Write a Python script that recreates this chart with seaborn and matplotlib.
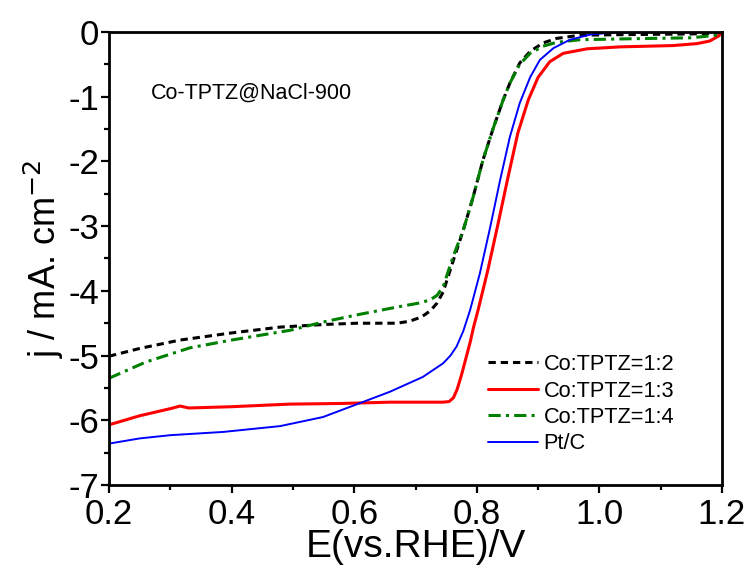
import matplotlib

matplotlib.use("Agg")

import pandas as pd
import seaborn as sns
from matplotlib import pyplot as plt
from matplotlib.ticker import MultipleLocator

sns.set_theme(style="white")
plt.rcParams["font.family"] = ["Liberation Sans", "DejaVu Sans"]
plt.rcParams["axes.unicode_minus"] = False
for key in ["text.color", "axes.labelcolor", "xtick.color", "ytick.color"]:
    plt.rcParams[key] = "black"

# Curves (E in V vs RHE, j in mA cm-2)
e_12 = [0.2, 0.25, 0.316, 0.4, 0.479, 0.55, 0.605, 0.67, 0.69, 0.705, 0.715,
        0.725, 0.735, 0.745, 0.761, 0.778, 0.794, 0.810, 0.826, 0.843, 0.854,
        0.870, 0.887, 0.908, 0.93, 0.968, 1.05, 1.15, 1.19, 1.2]
j_12 = [-5.01, -4.89, -4.76, -4.65, -4.56, -4.52, -4.50, -4.50, -4.47, -4.42, -4.37,
        -4.30, -4.19, -4.02, -3.55, -3.06, -2.55, -1.98, -1.51, -1.05, -0.79,
        -0.48, -0.30, -0.17, -0.10, -0.05, -0.04, -0.03, -0.02, 0.0]

e_13 = [0.2, 0.25, 0.3, 0.316, 0.33, 0.4, 0.495, 0.58, 0.658, 0.745, 0.755, 0.762,
        0.768, 0.775, 0.782, 0.789, 0.795, 0.802, 0.818, 0.835, 0.851, 0.867, 0.884,
        0.900, 0.919, 0.941, 0.980, 1.034, 1.077, 1.12, 1.159, 1.18, 1.195, 1.2]
j_13 = [-6.07, -5.93, -5.82, -5.78, -5.81, -5.79, -5.75, -5.74, -5.72, -5.72, -5.71, -5.65,
        -5.52, -5.30, -5.05, -4.80, -4.55, -4.30, -3.68, -2.95, -2.24, -1.56, -1.05,
        -0.70, -0.46, -0.33, -0.26, -0.23, -0.22, -0.21, -0.18, -0.14, -0.06, 0.0]

e_14 = [0.2, 0.26, 0.332, 0.4, 0.495, 0.55, 0.605, 0.67, 0.705, 0.724, 0.735, 0.745,
        0.761, 0.778, 0.794, 0.810, 0.826, 0.843, 0.854, 0.870, 0.887, 0.908, 0.93,
        0.968, 1.022, 1.08, 1.15, 1.19, 1.2]
j_14 = [-5.35, -5.10, -4.88, -4.76, -4.61, -4.48, -4.37, -4.25, -4.19, -4.14, -4.07, -3.94,
        -3.48, -3.06, -2.55, -1.98, -1.51, -1.05, -0.79, -0.50, -0.33, -0.22, -0.16,
        -0.12, -0.11, -0.10, -0.09, -0.05, 0.0]

e_pt = [0.2, 0.25, 0.3, 0.386, 0.479, 0.549, 0.605, 0.658, 0.712, 0.745, 0.757, 0.767,
        0.778, 0.789, 0.805, 0.822, 0.838, 0.854, 0.870, 0.887, 0.903, 0.925, 0.952,
        0.985, 1.02, 1.1, 1.2]
j_pt = [-6.36, -6.28, -6.23, -6.18, -6.09, -5.95, -5.75, -5.56, -5.33, -5.12, -5.00, -4.86,
        -4.62, -4.30, -3.73, -3.01, -2.29, -1.62, -1.10, -0.70, -0.43, -0.25, -0.12,
        -0.04, -0.01, 0.0, 0.0]

labels = ["Co:TPTZ=1:2", "Co:TPTZ=1:3", "Co:TPTZ=1:4", "Pt/C"]
series = [(e_12, j_12), (e_13, j_13), (e_14, j_14), (e_pt, j_pt)]
styles = [
    dict(color="black", linestyle=(0, (2.4, 1.6)), linewidth=2.2),
    dict(color="#ff0000", linestyle="-", linewidth=2.2),
    dict(color="#008000", linestyle=(0, (4, 1.7, 1, 1.7)), linewidth=2.2),
    dict(color="#0000ff", linestyle="-", linewidth=1.4),
]

fig = plt.figure(figsize=(7.53, 5.70), dpi=100)
ax = fig.add_axes([0.1448, 0.1491, 0.814, 0.7948])

for (e, j), lab, st in zip(series, labels, styles):
    df = pd.DataFrame({"E": e, "j": j})
    sns.lineplot(data=df, x="E", y="j", ax=ax, sort=False, label=lab, **st)

ax.set_xlim(0.2, 1.2)
ax.set_ylim(-7, 0)
ax.xaxis.set_major_locator(MultipleLocator(0.2))
ax.xaxis.set_minor_locator(MultipleLocator(0.1))
ax.yaxis.set_major_locator(MultipleLocator(1))
ax.yaxis.set_minor_locator(MultipleLocator(0.5))
ax.set_xticklabels([f"{v:.1f}" for v in ax.get_xticks()])
ax.tick_params(which="both", direction="out", bottom=True, left=True,
               top=False, right=False, width=1.6, labelsize=25, pad=1)
ax.tick_params(axis="x", pad=3)
ax.tick_params(which="major", length=6)
ax.tick_params(which="minor", length=3.5)
for s in ax.spines.values():
    s.set_linewidth(2.0)
    s.set_color("black")

ax.set_xlabel("E(vs.RHE)/V", fontsize=28, labelpad=-1)
ax.set_ylabel("j / mA. cm$^{-2}$", fontsize=26, labelpad=2)
ax.text(0.268, -0.95, "Co-TPTZ@NaCl-900", fontsize=15.5, va="center")

ax.legend(loc="upper left", bbox_to_anchor=(0.618, 0.289), frameon=False,
          fontsize=15.7, handlelength=2.3, handletextpad=0.25,
          labelspacing=0.25, borderpad=0, borderaxespad=0)

fig.savefig("out.png", dpi=100)
